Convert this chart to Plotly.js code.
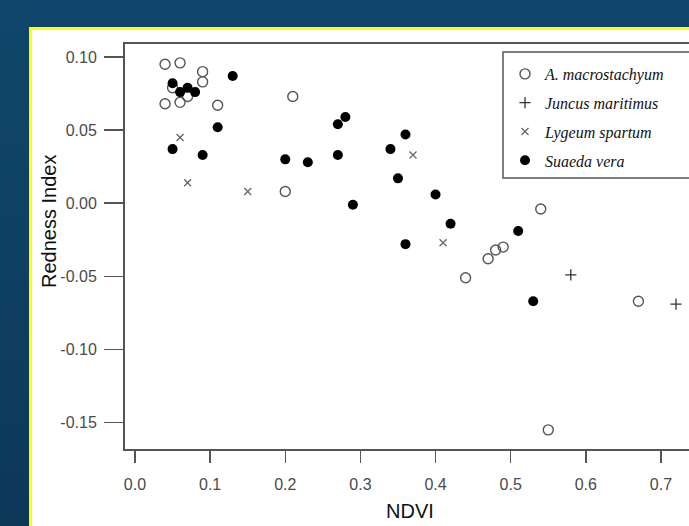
<!DOCTYPE html>
<html>
<head>
<meta charset="utf-8">
<script src="https://cdn.plot.ly/plotly-3.0.1.min.js"></script>
<style>
  html, body { margin: 0; padding: 0; width: 689px; height: 526px; overflow: hidden;
    background: linear-gradient(180deg, #10466b 0%, #0e4063 50%, #0c3858 100%); }
  #frame { position: absolute; left: 29px; top: 27px; border: 3px solid #ffff00;
    background: #ffffff; width: 760px; height: 520px; }
  #chart { width: 760px; height: 520px; }
</style>
</head>
<body>
<div id="frame"><div id="chart"></div></div>
<script>
// ---- data ----
const seriesNames = ["A. macrostachyum", "Juncus maritimus", "Lygeum spartum", "Suaeda vera"];

const macroNDVI    = [0.04, 0.06, 0.09, 0.09, 0.05, 0.07, 0.04, 0.06, 0.11, 0.21, 0.20, 0.44, 0.47, 0.48, 0.49, 0.54, 0.67, 0.55];
const macroRedness = [0.095, 0.096, 0.090, 0.083, 0.079, 0.073, 0.068, 0.069, 0.067, 0.073, 0.008, -0.051, -0.038, -0.032, -0.030, -0.004, -0.067, -0.155];

const juncusNDVI    = [0.58, 0.72];
const juncusRedness = [-0.049, -0.069];

const lygeumNDVI    = [0.06, 0.07, 0.15, 0.37, 0.41];
const lygeumRedness = [0.045, 0.014, 0.008, 0.033, -0.027];

const suaedaNDVI    = [0.05, 0.06, 0.07, 0.08, 0.13, 0.11, 0.05, 0.09, 0.20, 0.23, 0.28, 0.27, 0.27, 0.29, 0.36, 0.34, 0.35, 0.40, 0.42, 0.36, 0.51, 0.53];
const suaedaRedness = [0.082, 0.076, 0.079, 0.076, 0.087, 0.052, 0.037, 0.033, 0.030, 0.028, 0.059, 0.054, 0.033, -0.001, 0.047, 0.037, 0.017, 0.006, -0.014, -0.028, -0.019, -0.067];

const xTickVals  = [0.0, 0.1, 0.2, 0.3, 0.4, 0.5, 0.6, 0.7];
const xTickText  = ["0.0", "0.1", "0.2", "0.3", "0.4", "0.5", "0.6", "0.7"];
const yTickVals  = [0.10, 0.05, 0.00, -0.05, -0.10, -0.15];
const yTickText  = ["0.10", "0.05", "0.00", "-0.05", "-0.10", "-0.15"];

const xTitle = "NDVI";
const yTitle = "Redness Index";

// ---- chart ----
const tickFont = { family: "Liberation Sans Narrow, Arial Narrow, Liberation Sans, Arial, sans-serif", size: 16, color: "#4a4a4a" };
const legendFont = { family: "Liberation Serif, Times New Roman, serif", size: 16, color: "#111", style: "italic" };

const traces = [
  { x: macroNDVI, y: macroRedness, name: seriesNames[0], type: "scatter", mode: "markers",
    legendrank: 1, legendgroup: "a",
    marker: { symbol: "circle-open", size: 10, color: "#555", line: { width: 1.4, color: "#555" } } },
  { x: juncusNDVI, y: juncusRedness, name: seriesNames[1], type: "scatter", mode: "markers",
    legendrank: 2, legendgroup: "b",
    marker: { symbol: "cross-thin-open", size: 8, color: "#333", line: { width: 1.3, color: "#333" } } },
  { x: lygeumNDVI, y: lygeumRedness, name: seriesNames[2], type: "scatter", mode: "markers",
    legendrank: 3, legendgroup: "c",
    marker: { symbol: "x-thin-open", size: 7, color: "#666", line: { width: 1.3, color: "#666" } } },
  { x: suaedaNDVI, y: suaedaRedness, name: seriesNames[3], type: "scatter", mode: "markers",
    legendrank: 4, legendgroup: "d",
    marker: { symbol: "circle", size: 10, color: "#000", line: { width: 0 } } }
];

const W = 760, H = 520;
const mL = 93, mT = 14, plotH = 405;
const plotW = W - mL;

const layout = {
  width: W, height: H,
  margin: { l: mL, r: 0, t: mT, b: H - mT - plotH, pad: 0 },
  paper_bgcolor: "#ffffff", plot_bgcolor: "#ffffff",
  showlegend: true,
  legend: {
    x: (505 - 125) / plotW, xanchor: "left",
    y: 1 - (57 - 44) / plotH, yanchor: "top",
    bgcolor: "rgba(0,0,0,0)", borderwidth: 0,
    font: legendFont, traceorder: "grouped", tracegroupgap: 5
  },
  xaxis: {
    range: [-0.0133, 0.8744], showgrid: false, zeroline: false,
    showline: true, linecolor: "#555", linewidth: 2, mirror: true,
    ticks: "outside", ticklen: 12, tickwidth: 1.5, tickcolor: "#555",
    tickvals: xTickVals, ticktext: xTickText, tickfont: tickFont, ticklabelstandoff: 8
  },
  yaxis: {
    range: [-0.1681, 0.1089], showgrid: false, zeroline: false,
    showline: true, linecolor: "#555", linewidth: 2, mirror: true,
    ticks: "outside", ticklen: 19, tickwidth: 1.5, tickcolor: "#555",
    tickvals: yTickVals, ticktext: yTickText, tickfont: tickFont, ticklabelstandoff: 4
  },
  shapes: [
    { type: "rect", xref: "paper", yref: "paper",
      x0: (503 - 125) / plotW, x1: 1.2,
      y0: 1 - (178 - 44) / plotH, y1: 1 - (52 - 44) / plotH,
      line: { color: "#555", width: 1.5 }, fillcolor: "rgba(0,0,0,0)", layer: "below" }
  ],
  annotations: [
    { text: xTitle, xref: "paper", yref: "paper", showarrow: false,
      x: (410 - 125) / plotW, y: -(511 - 449) / plotH, xanchor: "center", yanchor: "middle",
      font: { family: "Liberation Sans Narrow, Arial Narrow, Liberation Sans, Arial, sans-serif", size: 20, color: "#111" } },
    { text: yTitle, xref: "paper", yref: "paper", showarrow: false, textangle: -90,
      x: -(125 - 49) / plotW, y: 1 - (222 - 44) / plotH, xanchor: "center", yanchor: "middle",
      font: { family: "Liberation Sans Narrow, Arial Narrow, Liberation Sans, Arial, sans-serif", size: 20, color: "#111" } }
  ]
};

Plotly.newPlot("chart", traces, layout, { displayModeBar: false, staticPlot: true });
</script>
</body>
</html>
